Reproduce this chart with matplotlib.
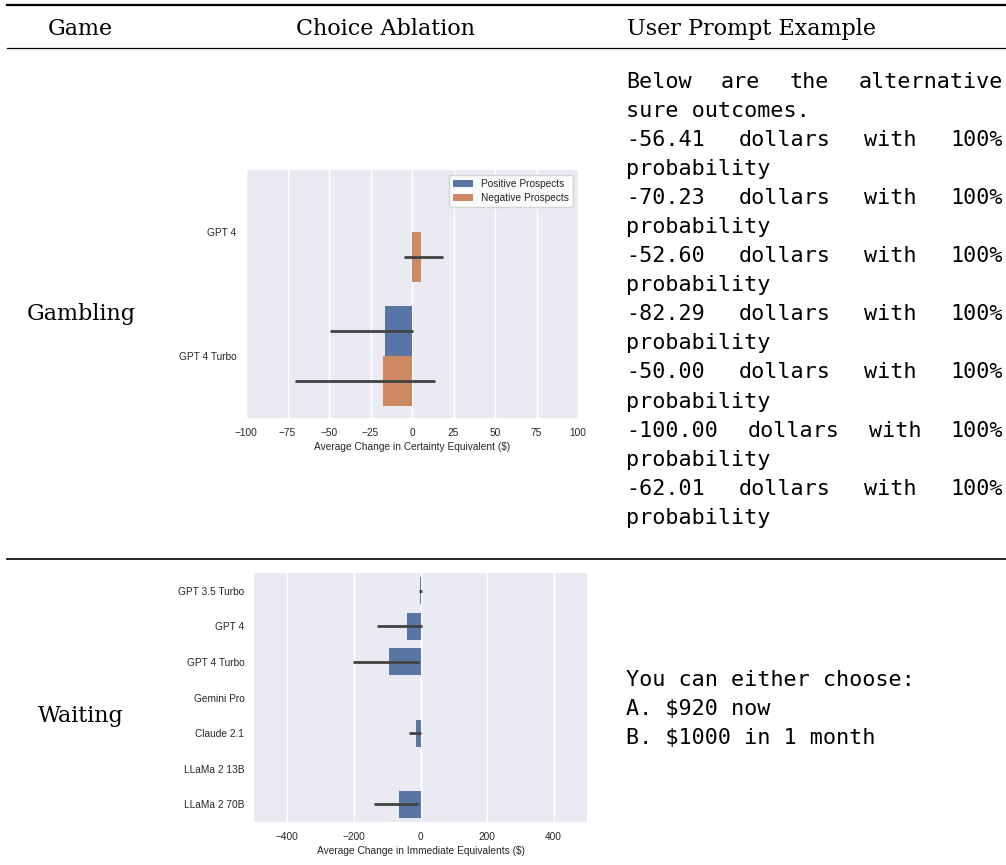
import numpy as np
import matplotlib
matplotlib.use("Agg")
import matplotlib.pyplot as plt

# ---- data ----
gamble_models = ["GPT 4", "GPT 4 Turbo"]
gamble_pos_mean = [np.nan, -16.0]
gamble_pos_lo = [np.nan, -49.5]
gamble_pos_hi = [np.nan, 0.4]
gamble_neg_mean = [5.4, -17.3]
gamble_neg_lo = [-5.0, -70.2]
gamble_neg_hi = [18.5, 13.7]
gamble_ticks = [-100, -75, -50, -25, 0, 25, 50, 75, 100]

wait_models = ["GPT 3.5 Turbo", "GPT 4", "GPT 4 Turbo", "Gemini Pro",
               "Claude 2.1", "LLaMa 2 13B", "LLaMa 2 70B"]
wait_mean = [-1.0, -41.0, -95.0, 0.0, -15.0, 0.0, -65.0]
wait_lo = [-6.0, -131.0, -202.0, 0.0, -36.0, 0.0, -140.0]
wait_hi = [4.0, 4.0, -6.0, 0.0, 2.0, 0.0, -7.0]
wait_ticks = [-400, -200, 0, 200, 400]

headers = ["Game", "Choice Ablation", "User Prompt Example"]
games = ["Gambling", "Waiting"]

gamble_prompt = [
    ("Below are the alternative", True),
    ("sure outcomes.", False),
    ("-56.41 dollars with 100%", True),
    ("probability", False),
    ("-70.23 dollars with 100%", True),
    ("probability", False),
    ("-52.60 dollars with 100%", True),
    ("probability", False),
    ("-82.29 dollars with 100%", True),
    ("probability", False),
    ("-50.00 dollars with 100%", True),
    ("probability", False),
    ("-100.00 dollars with 100%", True),
    ("probability", False),
    ("-62.01 dollars with 100%", True),
    ("probability", False),
]
wait_prompt = ["You can either choose:", "A. $920 now", "B. $1000 in 1 month"]

W, H = 1006, 865
BLUE = "#5975A4"
ORANGE = "#CC8963"
ERR = "#424242"
BG = "#EAEAF2"
TXT = "#262626"
SANS = "Liberation Sans"
SERIF = "DejaVu Serif"
MONO = "DejaVu Sans Mono"


def fx(x):
    return x / W


def fy(y):
    return 1 - y / H


def style_axes(ax):
    ax.set_facecolor(BG)
    for s in ax.spines.values():
        s.set_visible(False)
    ax.grid(axis="x", color="white", linewidth=1.0)
    ax.set_axisbelow(True)
    ax.tick_params(length=0, labelsize=7.3, labelcolor=TXT, pad=7)
    for lab in ax.get_xticklabels() + ax.get_yticklabels():
        lab.set_family(SANS)


fig = plt.figure(figsize=(W / 100, H / 100), dpi=100)

# ---- table rules ----
for y, lw in [(5, 1.6), (48, 0.9), (559, 1.2)]:
    fig.add_artist(plt.Line2D([fx(7), 1.0], [fy(y), fy(y)], color="black", lw=lw))

# ---- header and row titles ----
serif_kw = dict(family=SERIF, fontsize=16, color="black", va="baseline")
fig.text(fx(80), fy(35), headers[0], ha="center", **serif_kw)
fig.text(fx(385), fy(35), headers[1], ha="center", **serif_kw)
fig.text(fx(627), fy(35), headers[2], ha="left", **serif_kw)
fig.text(fx(81), fy(320), games[0], ha="center", **serif_kw)
fig.text(fx(81), fy(722), games[1], ha="center", **serif_kw)

# ---- gambling chart ----
ax1 = fig.add_axes([fx(246), fy(418), fx(578) - fx(246), fy(170) - fy(418)])
style_axes(ax1)
yc = np.arange(len(gamble_models))
bh = 0.4
pm = np.array(gamble_pos_mean)
nm = np.array(gamble_neg_mean)
ok = np.isfinite(pm)
ax1.barh(yc[ok] - 0.2, pm[ok], height=bh, color=BLUE, label="Positive Prospects", zorder=2)
ax1.barh(yc - 0.2 + 0.4, nm, height=bh, color=ORANGE, label="Negative Prospects", zorder=2)
lo, hi = np.array(gamble_pos_lo), np.array(gamble_pos_hi)
ax1.hlines(yc[ok] - 0.2, lo[ok], hi[ok], color=ERR, lw=2.0, zorder=3)
ax1.hlines(yc + 0.2, gamble_neg_lo, gamble_neg_hi, color=ERR, lw=2.0, zorder=3)
ax1.set_xlim(-100, 100)
ax1.set_ylim(len(gamble_models) - 0.5, -0.5)
ax1.set_xticks(gamble_ticks)
ax1.set_yticks(yc)
ax1.set_yticklabels(gamble_models)
style_axes(ax1)
ax1.set_xlabel("Average Change in Certainty Equivalent ($)", family=SANS,
               fontsize=7.3, color=TXT, labelpad=3)
leg = ax1.legend(loc="upper right", prop={"family": SANS, "size": 7.3},
                 handlelength=2.0, borderpad=0.4, labelspacing=0.35)
for t in leg.get_texts():
    t.set_color(TXT)

# ---- waiting chart ----
ax2 = fig.add_axes([fx(254), fy(822), fx(587) - fx(254), fy(573) - fy(822)])
style_axes(ax2)
yw = np.arange(len(wait_models))
ax2.barh(yw, wait_mean, height=0.76, color=BLUE, zorder=2)
ax2.hlines(yw, wait_lo, wait_hi, color=ERR, lw=2.0, zorder=3)
ax2.set_xlim(-500, 500)
ax2.set_ylim(len(wait_models) - 0.5, -0.5)
ax2.set_xticks(wait_ticks)
ax2.set_yticks(yw)
ax2.set_yticklabels(wait_models)
style_axes(ax2)
ax2.set_xlabel("Average Change in Immediate Equivalents ($)", family=SANS,
               fontsize=7.3, color=TXT, labelpad=3)

# ---- prompt text (monospace, justified like the table cell) ----
mono_kw = dict(family=MONO, fontsize=15.7, color="black", va="baseline")
renderer = fig.canvas.get_renderer()
x0, x1 = 626, 1003
for i, (line, just) in enumerate(gamble_prompt):
    yb = fy(88 + 29.05 * i)
    words = line.split()
    if not just or len(words) == 1:
        fig.text(fx(x0), yb, line, ha="left", **mono_kw)
        continue
    texts = [fig.text(0, yb, w, ha="left", **mono_kw) for w in words]
    widths = [t.get_window_extent(renderer).width for t in texts]
    gap = (x1 - x0 - sum(widths)) / (len(words) - 1)
    x = x0
    for t, w in zip(texts, widths):
        t.set_x(fx(x))
        x += w + gap

for i, line in enumerate(wait_prompt):
    fig.text(fx(x0), fy(686.5 + 28.7 * i), line, ha="left", **mono_kw)

fig.savefig("out.png", dpi=100)
